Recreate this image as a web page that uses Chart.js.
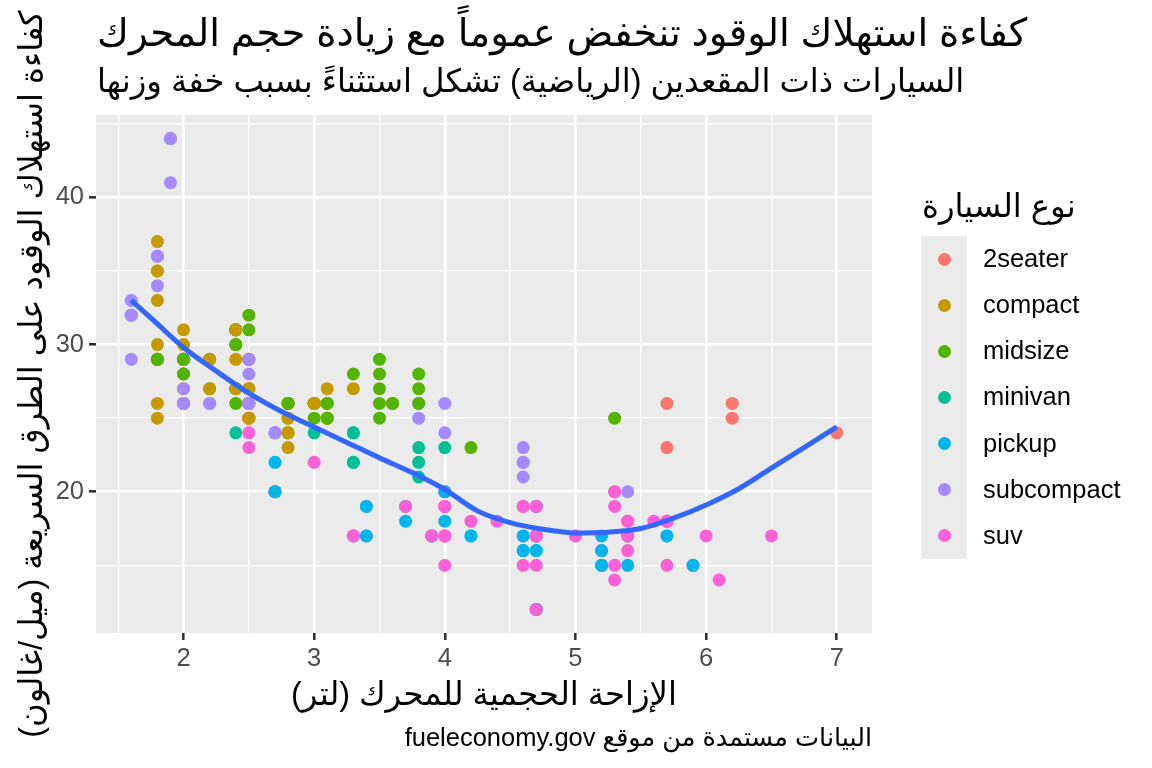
<!DOCTYPE html>
<html lang="ar">
<head>
<meta charset="utf-8">
<title>كفاءة استهلاك الوقود</title>
<script src="https://cdn.jsdelivr.net/npm/chart.js@4.4.1/dist/chart.umd.min.js"></script>
<style>
  body { margin: 0; background: #fff; }
  #wrap { position: relative; width: 1152px; height: 768px; overflow: hidden;
          font-family: "Liberation Sans", "DejaVu Sans", sans-serif; color: #000; }
  #chart { position: absolute; left: 0; top: 0; direction: rtl; }
  .txt { position: absolute; white-space: nowrap; line-height: 1; }
  #title { left: 97px; top: 14px; font-size: 38.7px; }
  #subtitle { left: 97px; top: 65px; font-size: 32.3px; }
  #caption { right: 280px; top: 725px; font-size: 25.5px; }
  #legendTitle { left: 922px; top: 190px; font-size: 32.3px; }
  #legendKeys { position: absolute; left: 921px; top: 236px; width: 46px; height: 323px; background: #EBEBEB; }
  .dot { position: absolute; left: 16.5px; width: 13px; height: 13px; border-radius: 50%; }
  .lab { position: absolute; left: 983px; font-size: 25.5px; line-height: 1; white-space: nowrap; }
</style>
</head>
<body>
<div id="wrap">
  <canvas id="chart" width="1152" height="768"></canvas>
  <div id="title" class="txt" dir="rtl">كفاءة استهلاك الوقود تنخفض عموماً مع زيادة حجم المحرك</div>
  <div id="subtitle" class="txt" dir="rtl">السيارات ذات المقعدين (الرياضية) تشكل استثناءً بسبب خفة وزنها</div>
  <div id="caption" class="txt" dir="rtl">البيانات مستمدة من موقع fueleconomy.gov</div>
  <div id="legendTitle" class="txt" dir="rtl">نوع السيارة</div>
  <div id="legendKeys"></div>
  <div id="legendLabels"></div>
</div>
<script>
const classNames = ["2seater", "compact", "midsize", "minivan", "pickup", "subcompact", "suv"];
const classColors = ["#F8766D", "#C49A00", "#53B400", "#00C094", "#00B6EB", "#A58AFF", "#FB61D7"];

const xTicks = [2, 3, 4, 5, 6, 7];
const xMinorTicks = [1.5, 2.5, 3.5, 4.5, 5.5, 6.5];
const yTicks = [20, 30, 40];
const yMinorTicks = [15, 25, 35, 45];

// engine displacement (litres), one value per car, in data order
const displ = [
  1.8, 1.8, 2.0, 2.0, 2.8, 2.8, 3.1,
  1.8, 1.8, 2.0, 2.0, 2.8, 2.8, 3.1, 3.1,
  2.8, 3.1, 4.2,
  5.3, 5.3, 5.3, 5.7, 6.0,
  5.7, 5.7, 6.2, 6.2, 7.0,
  5.3, 5.3, 5.7, 6.5,
  2.4, 2.4, 3.1, 3.5, 3.6,
  2.4, 3.0, 3.3, 3.3, 3.3, 3.3, 3.3, 3.8, 3.8, 3.8, 4.0,
  3.7, 3.7, 3.9, 3.9, 4.7, 4.7, 4.7, 5.2, 5.2,
  3.9, 4.7, 4.7, 4.7, 5.2, 5.7, 5.9,
  4.7, 4.7, 4.7, 4.7, 4.7, 4.7, 5.2, 5.2, 5.7, 5.9,
  4.6, 5.4, 5.4,
  4.0, 4.0, 4.0, 4.0, 4.6, 5.0,
  4.2, 4.2, 4.6, 4.6, 4.6, 5.4, 5.4,
  3.8, 3.8, 4.0, 4.0, 4.6, 4.6, 4.6, 4.6, 5.4,
  1.6, 1.6, 1.6, 1.6, 1.6, 1.8, 1.8, 1.8, 2.0,
  2.4, 2.4, 2.4, 2.4, 2.5, 2.5, 3.3,
  2.0, 2.0, 2.0, 2.0, 2.7, 2.7, 2.7,
  3.0, 3.7, 4.0, 4.7, 4.7, 4.7, 5.7, 6.1,
  4.0, 4.2, 4.4, 4.6,
  5.4, 5.4, 5.4,
  4.0, 4.0, 4.6, 5.0,
  2.4, 2.4, 2.5, 2.5, 3.5, 3.5,
  3.0, 3.0, 3.5,
  3.3, 3.3, 4.0, 5.6,
  3.1, 3.8, 3.8, 3.8, 5.3,
  2.5, 2.5, 2.5, 2.5, 2.5, 2.5,
  2.2, 2.2, 2.5, 2.5, 2.5, 2.5, 2.5, 2.5,
  2.7, 2.7, 3.4, 3.4, 4.0, 4.7,
  2.2, 2.2, 2.4, 2.4, 3.0, 3.0, 3.5,
  2.2, 2.2, 2.4, 2.4, 3.0, 3.0, 3.3,
  1.8, 1.8, 1.8, 1.8, 1.8,
  4.7, 5.7,
  2.7, 2.7, 2.7, 3.4, 3.4, 4.0, 4.0,
  2.0, 2.0, 2.0, 2.0, 2.8,
  1.9, 2.0, 2.0, 2.0, 2.0, 2.5, 2.5, 2.8, 2.8,
  1.9, 1.9, 2.0, 2.0, 2.5, 2.5,
  1.8, 1.8, 2.0, 2.0, 2.8, 2.8, 3.6
];

// highway mileage (mpg), same order
const hwy = [
  29, 29, 31, 30, 26, 26, 27,
  26, 25, 28, 27, 25, 25, 25, 25,
  24, 25, 23,
  20, 15, 20, 17, 17,
  26, 23, 26, 25, 24,
  19, 14, 15, 17,
  27, 30, 26, 29, 26,
  24, 24, 22, 22, 24, 24, 17, 22, 21, 23, 23,
  19, 18, 17, 17, 19, 19, 12, 17, 15,
  17, 17, 12, 17, 16, 18, 15,
  16, 12, 17, 17, 16, 12, 15, 16, 17, 15,
  17, 17, 18,
  17, 19, 17, 19, 19, 17,
  17, 17, 16, 16, 17, 15, 17,
  26, 25, 26, 24, 21, 22, 23, 22, 20,
  33, 32, 32, 29, 32, 34, 36, 36, 29,
  26, 27, 30, 31, 26, 26, 28,
  26, 29, 28, 27, 24, 24, 24,
  22, 19, 20, 17, 12, 19, 18, 14,
  15, 18, 18, 15,
  17, 16, 18,
  17, 19, 19, 17,
  29, 27, 31, 32, 27, 26,
  26, 25, 25,
  17, 17, 20, 18,
  26, 26, 27, 28, 25,
  25, 24, 27, 25, 26, 23,
  26, 26, 26, 26, 25, 27, 25, 27,
  20, 20, 19, 17, 20, 17,
  29, 27, 31, 31, 26, 26, 28,
  27, 29, 31, 31, 26, 26, 27,
  30, 33, 35, 37, 35,
  15, 18,
  20, 20, 22, 17, 19, 18, 20,
  29, 26, 29, 29, 24,
  44, 29, 26, 29, 29, 29, 29, 23, 24,
  44, 41, 29, 26, 28, 29,
  29, 29, 28, 29, 26, 26, 26
];

// vehicle class, same order
const carClass = [
  "compact", "compact", "compact", "compact", "compact", "compact", "compact",
  "compact", "compact", "compact", "compact", "compact", "compact", "compact", "compact",
  "midsize", "midsize", "midsize",
  "suv", "suv", "suv", "suv", "suv",
  "2seater", "2seater", "2seater", "2seater", "2seater",
  "suv", "suv", "suv", "suv",
  "midsize", "midsize", "midsize", "midsize", "midsize",
  "minivan", "minivan", "minivan", "minivan", "minivan", "minivan", "minivan", "minivan", "minivan", "minivan", "minivan",
  "pickup", "pickup", "pickup", "pickup", "pickup", "pickup", "pickup", "pickup", "pickup",
  "suv", "suv", "suv", "suv", "suv", "suv", "suv",
  "pickup", "pickup", "pickup", "pickup", "pickup", "pickup", "pickup", "pickup", "pickup", "pickup",
  "suv", "suv", "suv",
  "suv", "suv", "suv", "suv", "suv", "suv",
  "pickup", "pickup", "pickup", "pickup", "pickup", "pickup", "pickup",
  "subcompact", "subcompact", "subcompact", "subcompact", "subcompact", "subcompact", "subcompact", "subcompact", "subcompact",
  "subcompact", "subcompact", "subcompact", "subcompact", "subcompact", "subcompact", "subcompact", "subcompact", "subcompact",
  "midsize", "midsize", "midsize", "midsize", "midsize", "midsize", "midsize",
  "subcompact", "subcompact", "subcompact", "subcompact", "subcompact", "subcompact", "subcompact",
  "suv", "suv", "suv", "suv", "suv", "suv", "suv", "suv",
  "suv", "suv", "suv", "suv",
  "suv", "suv", "suv",
  "suv", "suv", "suv", "suv",
  "compact", "compact", "midsize", "midsize", "midsize", "midsize",
  "midsize", "midsize", "midsize",
  "suv", "suv", "suv", "suv",
  "midsize", "midsize", "midsize", "midsize", "midsize",
  "suv", "suv", "suv", "suv", "suv", "suv",
  "subcompact", "subcompact", "subcompact", "subcompact", "compact", "compact", "compact", "compact",
  "suv", "suv", "suv", "suv", "suv", "suv",
  "midsize", "midsize", "midsize", "midsize", "midsize", "midsize", "midsize",
  "compact", "compact", "compact", "compact", "compact", "compact", "compact",
  "compact", "compact", "compact", "compact", "compact",
  "suv", "suv",
  "pickup", "pickup", "pickup", "pickup", "pickup", "pickup", "pickup",
  "compact", "compact", "compact", "compact", "compact",
  "compact", "compact", "compact", "compact", "compact", "compact", "compact", "compact", "compact",
  "subcompact", "subcompact", "subcompact", "subcompact", "subcompact", "subcompact",
  "midsize", "midsize", "midsize", "midsize", "midsize", "midsize", "midsize"
];

// smoothed trend
const smoothX = [1.6, 1.8, 2.0, 2.25, 2.5, 2.75, 3.0, 3.25, 3.5, 3.75, 4.0, 4.25,
                 4.5, 4.75, 5.0, 5.25, 5.5, 5.75, 6.0, 6.25, 6.5, 6.75, 7.0];
const smoothY = [33.0, 31.4, 29.8, 28.2, 26.7, 25.45, 24.4, 23.35, 22.3, 21.3, 20.15, 18.7,
                 17.9, 17.45, 17.2, 17.25, 17.5, 18.2, 19.1, 20.2, 21.6, 23.0, 24.4];

const FONT = "'Liberation Sans', 'DejaVu Sans', sans-serif";

// legend (html)
const keys = document.getElementById("legendKeys");
const labels = document.getElementById("legendLabels");
classNames.forEach((name, i) => {
  const dot = document.createElement("div");
  dot.className = "dot";
  dot.style.top = (i * 46.14 + 16.5) + "px";
  dot.style.background = classColors[i];
  keys.appendChild(dot);

  const lab = document.createElement("div");
  lab.className = "lab";
  lab.style.top = (236 + i * 46.14 + 10) + "px";
  lab.textContent = name;
  labels.appendChild(lab);
});

const points = displ.map((d, i) => ({ x: d, y: hwy[i] }));
const pointColors = carClass.map(c => classColors[classNames.indexOf(c)]);
const smooth = smoothX.map((x, i) => ({ x: x, y: smoothY[i] }));

function isMajor(list, v) {
  return list.some(t => Math.abs(t - v) < 1e-6);
}

// grey panel behind the grid
const panelBg = {
  id: "panelBg",
  beforeDraw(chart) {
    const a = chart.chartArea;
    const ctx = chart.ctx;
    ctx.save();
    ctx.fillStyle = "#EBEBEB";
    ctx.fillRect(a.left, a.top, a.right - a.left, a.bottom - a.top);
    ctx.restore();
  }
};

function gridFor(majors) {
  return {
    color: "#FFFFFF",
    lineWidth: c => isMajor(majors, c.tick.value) ? 2.6 : 1.3,
    tickColor: c => isMajor(majors, c.tick.value) ? "#333333" : "rgba(0,0,0,0)",
    tickWidth: 2.6,
    tickLength: 7,
    drawTicks: true
  };
}

new Chart(document.getElementById("chart"), {
  type: "scatter",
  data: {
    datasets: [
      {
        data: points,
        pointBackgroundColor: pointColors,
        pointBorderWidth: 0,
        pointRadius: 6.5,
        pointHoverRadius: 6.5,
        order: 2
      },
      {
        data: smooth,
        showLine: true,
        borderColor: "#3366FF",
        borderWidth: 5,
        pointRadius: 0,
        cubicInterpolationMode: "monotone",
        fill: false,
        order: 1
      }
    ]
  },
  options: {
    responsive: false,
    devicePixelRatio: 1,
    animation: false,
    events: [],
    layout: {
      autoPadding: false,
      padding: { top: 115, right: 280, left: 0, bottom: 0 }
    },
    plugins: {
      legend: { display: false },
      tooltip: { enabled: false }
    },
    scales: {
      x: {
        type: "linear",
        min: 1.33,
        max: 7.27,
        afterBuildTicks: s => {
          s.ticks = xTicks.concat(xMinorTicks).sort((a, b) => a - b).map(v => ({ value: v }));
        },
        afterFit: s => { s.height = 135; },
        border: { display: false },
        grid: gridFor(xTicks),
        ticks: {
          autoSkip: false,
          maxRotation: 0,
          padding: 4,
          color: "#4D4D4D",
          font: { family: FONT, size: 25.5 },
          callback: v => isMajor(xTicks, v) ? String(v) : ""
        },
        title: {
          display: true,
          text: "الإزاحة الحجمية للمحرك (لتر)",
          color: "#000000",
          font: { family: FONT, size: 32.3, lineHeight: 1 },
          padding: { top: 0, bottom: 56 }
        }
      },
      y: {
        type: "linear",
        min: 10.4,
        max: 45.6,
        afterBuildTicks: s => {
          s.ticks = yTicks.concat(yMinorTicks).sort((a, b) => a - b).map(v => ({ value: v }));
        },
        afterFit: s => { s.width = 96; },
        border: { display: false },
        grid: gridFor(yTicks),
        ticks: {
          autoSkip: false,
          padding: 5,
          color: "#4D4D4D",
          font: { family: FONT, size: 25.5 },
          callback: v => isMajor(yTicks, v) ? String(v) : ""
        },
        title: {
          display: true,
          text: "كفاءة استهلاك الوقود على الطرق السريعة (ميل/غالون)",
          color: "#000000",
          font: { family: FONT, size: 32.3, lineHeight: 1 },
          padding: { top: 17, bottom: 0 }
        }
      }
    }
  },
  plugins: [panelBg]
});
</script>
</body>
</html>
